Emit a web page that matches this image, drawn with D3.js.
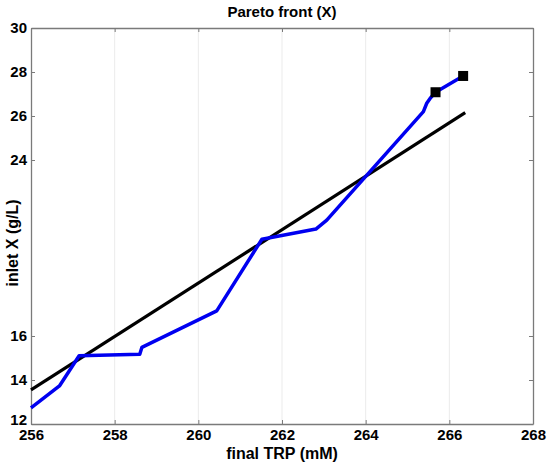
<!DOCTYPE html>
<html>
<head>
<meta charset="utf-8">
<script src="https://cdn.jsdelivr.net/npm/d3@7"></script>
<style>
  body { margin: 0; background: #fff; }
  text { font-family: "Liberation Sans", Arial, sans-serif; font-weight: bold; }
</style>
</head>
<body>
<div id="chart"></div>
<script>
// pareto front points (blue)
const frontTrp = [256.0, 256.68, 257.15, 258.6, 258.65, 260.44, 261.52, 262.81, 263.07, 265.38, 265.46, 265.54, 265.67, 266.33];
const frontX = [12.73, 13.73, 15.1, 15.17, 15.48, 17.14, 20.4, 20.86, 21.27, 26.2, 26.58, 26.8, 27.08, 27.82];
// linear fit (black)
const fitTrp = [256.0, 266.38];
const fitX = [13.55, 26.15];
// end markers
const markerTrp = [265.67, 266.33];
const markerX = [27.08, 27.82];

const xTicks = [256, 258, 260, 262, 264, 266, 268];
const yTicks = [12, 14, 16, 24, 26, 28, 30];

const margin = { top: 28, right: 17, bottom: 43, left: 31 };
const canvasWidth = 550;
const canvasHeight = 467;
const width = canvasWidth - margin.left - margin.right;
const height = canvasHeight - margin.top - margin.bottom;

const svg = d3.select("#chart")
  .append("svg")
  .attr("width", canvasWidth)
  .attr("height", canvasHeight);

const g = svg.append("g")
  .attr("transform", `translate(${margin.left}, ${margin.top})`);

const x = d3.scaleLinear().domain([256, 268]).range([0, width]);
const y = d3.scaleLinear().domain([12, 30]).range([height, 0]);

// faint vertical grid
g.selectAll("line.grid")
  .data(xTicks.slice(1, -1))
  .join("line")
  .attr("class", "grid")
  .attr("x1", d => x(d)).attr("x2", d => x(d))
  .attr("y1", 0).attr("y2", height)
  .attr("stroke", "#ebebeb")
  .attr("stroke-width", 1);

// axes (box with inward ticks)
const axisColor = "#7a7a7a";
const styleAxis = sel => {
  sel.select(".domain").attr("stroke", axisColor).attr("stroke-width", 1.3);
  sel.selectAll(".tick line").attr("stroke", axisColor).attr("stroke-width", 1);
  sel.selectAll(".tick text").attr("fill", "#000").style("font-size", "15px").style("font-weight", "bold");
};

g.append("g")
  .attr("transform", `translate(0, ${height})`)
  .call(d3.axisBottom(x).tickValues(xTicks).tickFormat(d3.format("d")).tickSizeInner(-4).tickSizeOuter(0).tickPadding(5))
  .call(styleAxis);

g.append("g")
  .call(d3.axisTop(x).tickValues(xTicks).tickFormat("").tickSizeInner(-4).tickSizeOuter(0))
  .call(styleAxis);

g.append("g")
  .call(d3.axisLeft(y).tickValues(yTicks).tickFormat(d3.format("d")).tickSizeInner(-4).tickSizeOuter(0).tickPadding(4))
  .call(styleAxis)
  .call(a => a.selectAll(".tick text").filter(d => d === 12).attr("dy", "0.05em"));

g.append("g")
  .attr("transform", `translate(${width}, 0)`)
  .call(d3.axisRight(y).tickValues(yTicks).tickFormat("").tickSizeInner(-4).tickSizeOuter(0))
  .call(styleAxis);

// lines
const line = d3.line().x(d => x(d[0])).y(d => y(d[1]));

g.append("path")
  .datum(fitTrp.map((t, i) => [t, fitX[i]]))
  .attr("d", line)
  .attr("fill", "none")
  .attr("stroke", "#000")
  .attr("stroke-width", 3.2);

g.append("path")
  .datum(frontTrp.map((t, i) => [t, frontX[i]]))
  .attr("d", line)
  .attr("fill", "none")
  .attr("stroke", "#0000f0")
  .attr("stroke-width", 3.5)
  .attr("stroke-linejoin", "round");

// square markers
const sq = 10;
g.selectAll("rect.marker")
  .data(markerTrp.map((t, i) => [t, markerX[i]]))
  .join("rect")
  .attr("class", "marker")
  .attr("x", d => x(d[0]) - sq / 2)
  .attr("y", d => y(d[1]) - sq / 2)
  .attr("width", sq)
  .attr("height", sq)
  .attr("fill", "#000");

// labels
svg.append("text")
  .attr("x", margin.left + width / 2)
  .attr("y", 17)
  .attr("text-anchor", "middle")
  .style("font-size", "15px")
  .text("Pareto front (X)");

svg.append("text")
  .attr("x", margin.left + width / 2)
  .attr("y", 459)
  .attr("text-anchor", "middle")
  .style("font-size", "16px")
  .text("final TRP (mM)");

svg.append("text")
  .attr("transform", "translate(18, 243) rotate(-90)")
  .attr("text-anchor", "middle")
  .style("font-size", "16px")
  .text("inlet X (g/L)");
</script>
</body>
</html>
